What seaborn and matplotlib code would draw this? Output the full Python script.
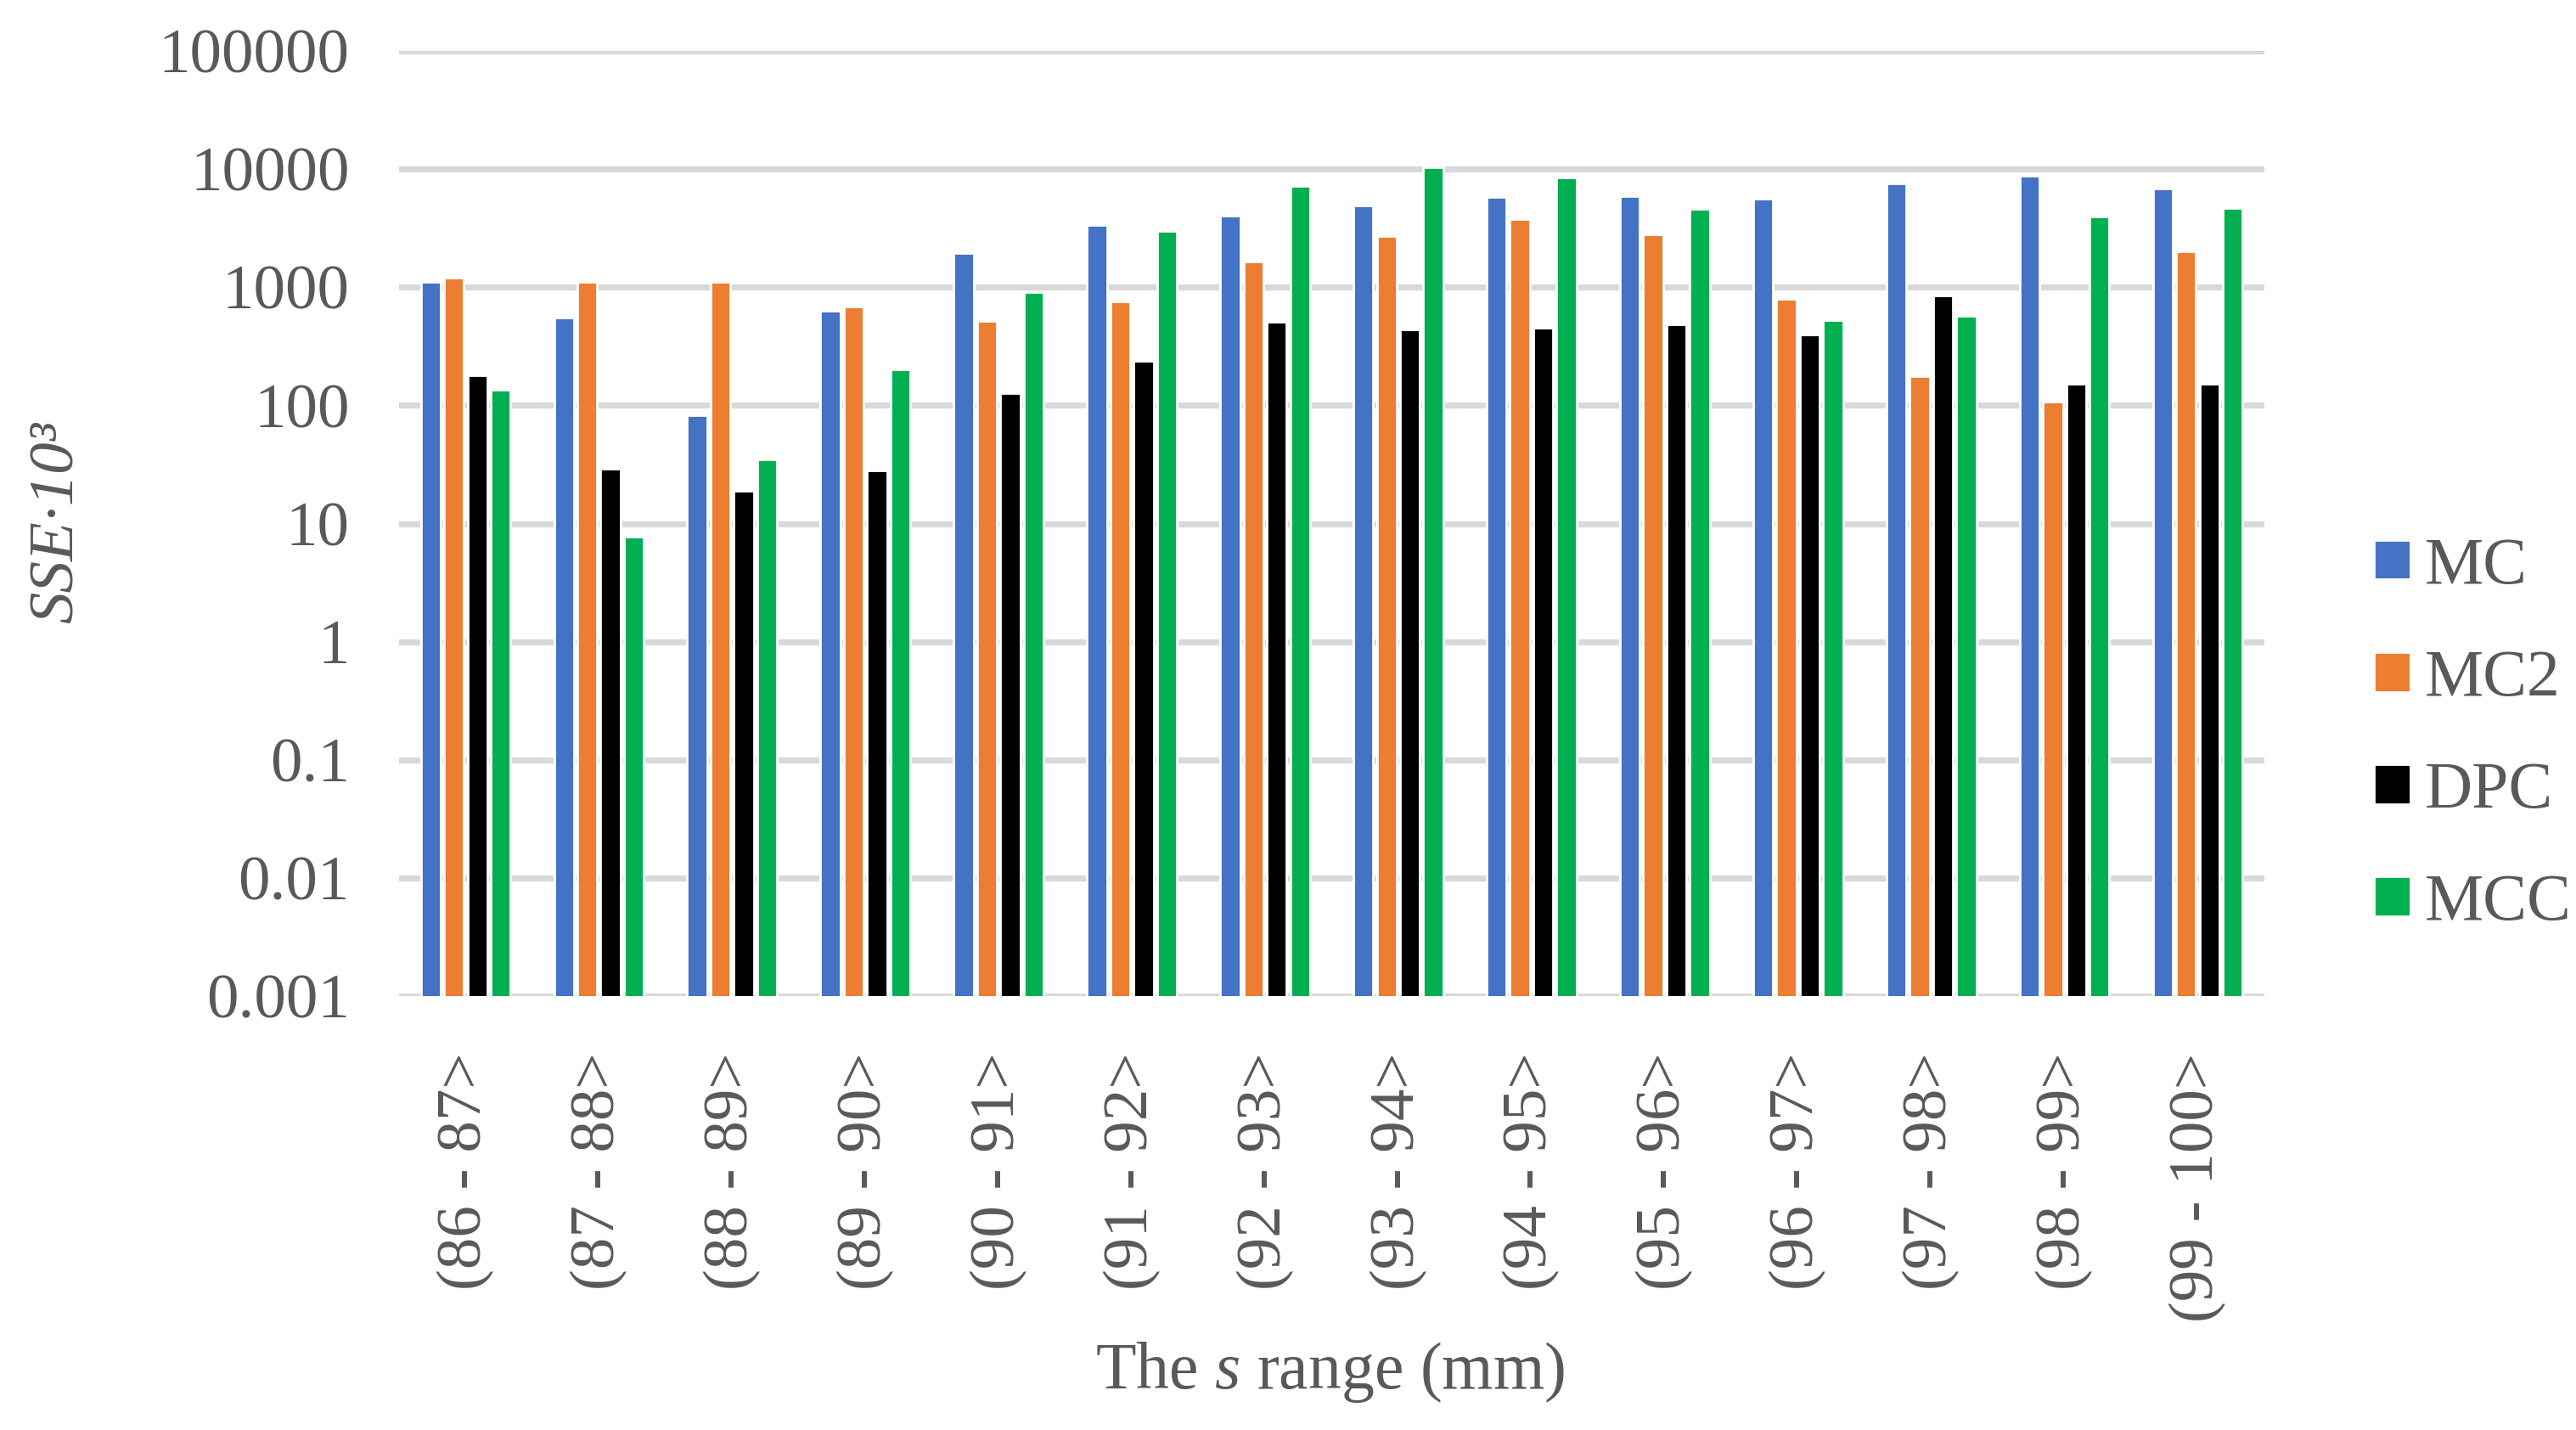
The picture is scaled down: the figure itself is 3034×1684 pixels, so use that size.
import matplotlib
matplotlib.use("Agg")
import matplotlib.pyplot as plt
import seaborn as sns
import pandas as pd

# ---- data ----
ranges = ["(86 - 87>", "(87 - 88>", "(88 - 89>", "(89 - 90>", "(90 - 91>", "(91 - 92>",
          "(92 - 93>", "(93 - 94>", "(94 - 95>", "(95 - 96>", "(96 - 97>", "(97 - 98>",
          "(98 - 99>", "(99 - 100>"]
methods = ["MC", "MC2", "DPC", "MCC"]
mc  = [1100, 555, 82, 635, 1950, 3370, 4050, 4950, 5800, 5900, 5590, 7580, 8810, 6840]
mc2 = [1210, 1100, 1100, 690, 515, 762, 1660, 2720, 3800, 2790, 796, 177, 108, 2000]
dpc = [181, 29, 19, 28, 126, 237, 513, 440, 455, 486, 400, 850, 152, 152]
mcc = [135, 7.8, 35, 200, 916, 3010, 7240, 10300, 8500, 4620, 525, 573, 3970, 4680]
yticks = [0.001, 0.01, 0.1, 1, 10, 100, 1000, 10000, 100000]
ytick_labels = ["0.001", "0.01", "0.1", "1", "10", "100", "1000", "10000", "100000"]
colors = ["#4472C4", "#ED7D31", "#000000", "#00B050"]

df = pd.DataFrame({
    "range": ranges * 4,
    "method": [m for m in methods for _ in ranges],
    "value": mc + mc2 + dpc + mcc,
})

sns.set_theme(style="white")
plt.rcParams["font.family"] = ["Liberation Serif", "DejaVu Serif"]
plt.rcParams["mathtext.fontset"] = "custom"
plt.rcParams["mathtext.rm"] = "Liberation Serif"
plt.rcParams["mathtext.it"] = "Liberation Serif:italic"

W, H, DPI = 3034, 1684, 200
fig = plt.figure(figsize=(W / DPI, H / DPI), dpi=DPI)
ax = fig.add_axes([470 / W, 1 - 1173 / H, (2667 - 470) / W, (1173 - 60) / H])

ax.set_yscale("log")
sns.barplot(data=df, x="range", y="value", hue="method", hue_order=methods,
            palette=colors, width=0.7, gap=0.15, ax=ax, saturation=1,
            errorbar=None)
ax.set_ylim(0.001, 100000)
ax.set_xlim(-0.5, len(ranges) - 0.5)

text_color = "#595959"
fs = 27
ax.set_yticks(yticks)
ax.set_yticklabels(ytick_labels)
ax.minorticks_off()
ax.yaxis.grid(True, color="#D9D9D9", linewidth=2.6)
ax.set_axisbelow(True)
for s in ax.spines.values():
    s.set_visible(False)
ax.tick_params(axis="y", length=0, pad=21, labelsize=fs, labelcolor=text_color)
ax.tick_params(axis="x", length=0, pad=24, labelsize=fs, labelcolor=text_color,
               labelrotation=90)

ax.set_xlabel("")
ax.set_ylabel("")
fig.text(1567 / W, 1 - 1616 / H, "The $s$ range (mm)", fontsize=fs + 1,
         color=text_color, ha="center", va="center")
fig.text(68 / W, 1 - 615 / H, "SSE·10³", fontsize=fs, color=text_color,
         fontstyle="italic", rotation=90, ha="center", va="center")

ax.legend_.remove()
handles, labels = ax.get_legend_handles_labels()
fig.legend(handles, labels, loc="center left",
           bbox_to_anchor=(2796 / W, 1 - 866 / H), frameon=False,
           fontsize=fs + 1, labelcolor=text_color, handlelength=0.55,
           handleheight=0.55, handletextpad=0.22, labelspacing=0.78,
           borderpad=0, borderaxespad=0)

fig.savefig("out.png", dpi=DPI, facecolor="white")
